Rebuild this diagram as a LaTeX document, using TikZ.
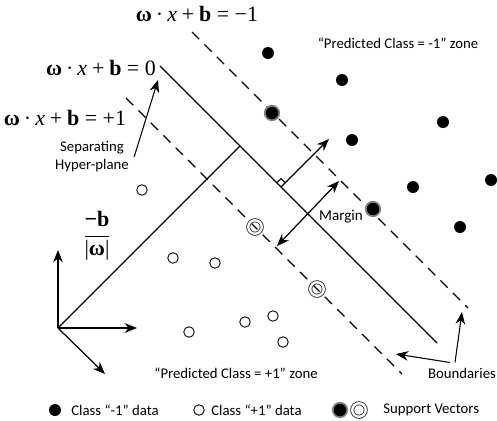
\documentclass[tikz,border=0pt]{standalone}
\usepackage{fontspec}
\setmainfont{Carlito}
\newfontfamily\eqfont{Liberation Serif}
\usetikzlibrary{arrows.meta, calc, positioning}

% w.x+b prefix of the boundary equations
\newcommand{\wxb}{\textbf{ω}\hspace{0.18em}·\hspace{0.18em}\textit{x}\hspace{0.22em}+\hspace{0.22em}\textbf{b}\hspace{0.25em}=\hspace{0.25em}}

\tikzset{
  negpt/.style={circle, fill=black, inner sep=0pt, minimum size=0.24cm},
  pospt/.style={circle, draw, line width=0.5pt, inner sep=0pt, minimum size=0.21cm},
  negsv/.style={circle, fill=black, draw=gray, line width=1pt, inner sep=0pt, minimum size=0.29cm},
  possv/.style={circle, draw=black!80, double=white, double distance=1.3pt, line width=0.5pt, inner sep=0pt, minimum size=0.27cm},
  eq/.style={font=\eqfont\fontsize{12.5}{14}\selectfont, inner sep=0pt},
  lbl/.style={font=\fontsize{8.4}{10.2}\selectfont, inner sep=0pt},
  arr/.style={-{Stealth[length=7pt,width=5.5pt]}, line width=0.7pt},
  bound/.style={line width=0.7pt, dash pattern=on 5.8pt off 4.2pt},
}

\begin{document}
\begin{tikzpicture}[x=0.02cm, y=-0.02cm]
    \useasboundingbox (0,0) rectangle (497,420);

    % Hyper-plane and boundaries
    \coordinate (upA) at (192,32);  \coordinate (upB) at (468,308);
    \coordinate (hpA) at (160,66);  \coordinate (hpB) at (437,343);
    \coordinate (loA) at (126,98);  \coordinate (loB) at (402,374);
    \draw[bound] (upA) -- (upB);
    \draw[line width=0.7pt] (hpA) -- (hpB);
    \draw[bound] (loA) -- (loB);

    % Axes and offset
    \coordinate (orig) at (58,328);
    \coordinate (yax) at (58,250);
    \coordinate (xax) at (137,328);
    \coordinate (wax) at (105,374);
    \coordinate (foot) at (240,146);
    \draw[arr] (orig) -- (yax);
    \draw[arr] (orig) -- (xax);
    \draw[arr] (orig) -- (wax);
    \draw[line width=0.7pt] (orig) -- (foot);

    % Normal vector with right angle
    \coordinate (nfoot) at (281,187);
    \coordinate (ntip) at (329,139);
    \draw[arr] (nfoot) -- (ntip);
    \draw[line width=0.6pt] ($(nfoot)+(-4.2,-4.2)$) -- ++(4.2,-4.2) -- ++(4.2,4.2);

    % Margin
    \coordinate (mlo) at (277,246);
    \coordinate (mup) at (339,181);
    \draw[arr, {Stealth[length=7pt,width=5.5pt]}-{Stealth[length=7pt,width=5.5pt]}] (mlo) -- (mup);
    \node[lbl, font=\fontsize{8.6}{10}\selectfont] (margin) at (341,217) {Margin};

    % Class -1 data
    \foreach \px/\py [count=\i] in {268/53, 342/80, 443/122, 352/140, 413/187, 491/180, 460/227}
        \node[negpt] (neg\i) at (\px,\py) {};
    % Class +1 data
    \foreach \px/\py [count=\i] in {142/190, 173/258, 215/263, 189/332, 245/322, 273/316, 283/342}
        \node[pospt] (pos\i) at (\px,\py) {};
    % Support vectors
    \node[negsv] (sv1) at (272,113) {};
    \node[negsv] (sv2) at (373,209) {};
    \node[possv] (sv3) at (255,227) {};
    \node[possv] (sv4) at (317,289) {};

    % Equations
    \node[eq] (eqneg) at (197,14) {\wxb−1};
    \node[eq] (eqzero) at (101,68) {\wxb0};
    \node[eq] (eqpos) at (65,118) {\wxb+1};
    \node[eq] (offset) at (97,236) {$\displaystyle\frac{\hbox{\bfseries −b}}{\hbox{|\bfseries ω\mdseries|}}$};

    % Separating hyper-plane
    \node[lbl, align=center] (sep) at (92,157) {Separating\\Hyper-plane};
    \coordinate (septip) at (158,80);
    \draw[arr, line width=0.6pt] ([xshift=0.1cm]sep.east) -- (septip);

    % Zones
    \node[lbl] (zneg) at (398,43) {“Predicted Class = -1” zone};
    \node[lbl] (zpos) at (236,373) {“Predicted Class = +1” zone};

    % Boundaries
    \node[lbl] (bnd) at (462,373) {Boundaries};
    \coordinate (bl) at (396,354);
    \coordinate (br) at (462,312);
    \draw[arr, line width=0.6pt] ([xshift=-0.24cm,yshift=0.1cm]bnd.north) -- (bl);
    \draw[arr, line width=0.6pt] ([xshift=-0.14cm,yshift=0.1cm]bnd.north) -- (br);

    % Legend
    \node[negpt] (lgneg) at (55,410) {};
    \node[lbl, anchor=west] (lgnegt) at (71,410) {Class “-1” data};
    \node[pospt] (lgpos) at (199,410) {};
    \node[lbl, anchor=west] (lgpost) at (211,410) {Class “+1” data};
    \node[negsv] (lgsvn) at (340,410) {};
    \node[possv] (lgsvp) at (359,410) {};
    \node[lbl, anchor=west] (lgsvt) at (383,410) {Support Vectors};
\end{tikzpicture}
\end{document}
